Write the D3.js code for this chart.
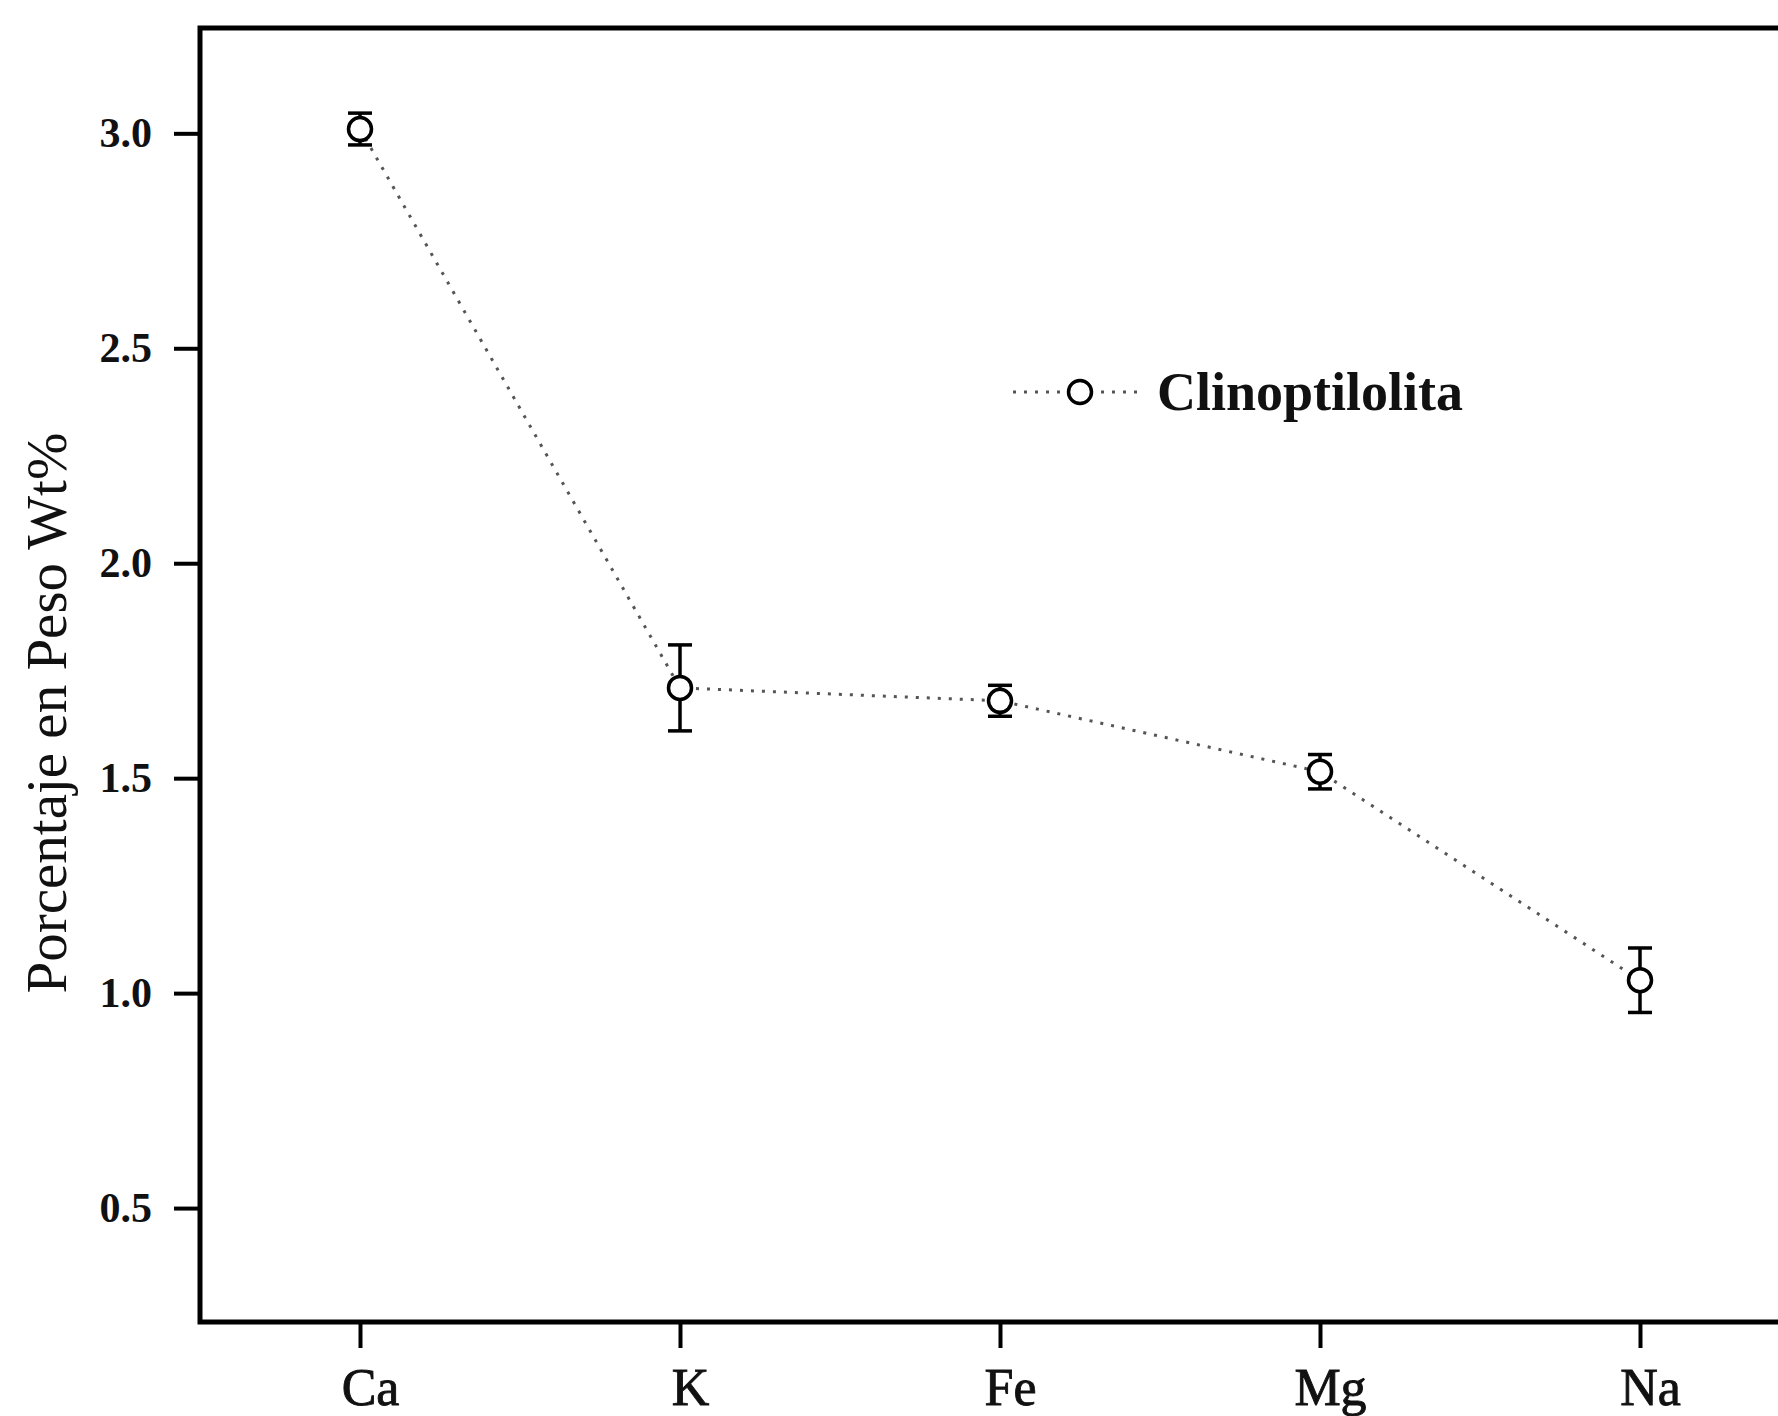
<!DOCTYPE html>
<html>
<head>
<meta charset="utf-8">
<script src="https://cdn.jsdelivr.net/npm/d3@7"></script>
<style>
  body { margin: 0; background: #fff; }
  svg { display: block; }
  text { font-family: "Liberation Serif", serif; fill: #111; }
</style>
</head>
<body>
<div id="chart"></div>
<script>
// data
var elements = ["Ca", "K", "Fe", "Mg", "Na"]
var pesoWt = [3.01, 1.71, 1.68, 1.515, 1.03]
var errWt = [0.037, 0.10, 0.036, 0.04, 0.075]
var yTicks = [0.5, 1.0, 1.5, 2.0, 2.5, 3.0]
var seriesName = "Clinoptilolita"
var yTitle = "Porcentaje en Peso Wt%"

var W = 1778, H = 1416
var margin = {top: 28, left: 200, bottom: 94}
var plotRight = 1800 // frame runs off the right edge in the original

var svg = d3.select("#chart").append("svg")
  .attr("width", W)
  .attr("height", H)

var x = d3.scalePoint()
  .domain(elements)
  .range([margin.left, plotRight])
  .padding(0.5)

var y = d3.scaleLinear()
  .domain([0.235, 3.245])
  .range([H - margin.bottom, margin.top])

var rows = elements.map(function(e, i) {
  return {el: e, v: pesoWt[i], err: errWt[i]}
})

// frame (left, top, bottom)
svg.append("rect")
  .attr("x", margin.left)
  .attr("y", margin.top)
  .attr("width", plotRight - margin.left)
  .attr("height", H - margin.bottom - margin.top)
  .attr("fill", "none")
  .attr("stroke", "#000")
  .attr("stroke-width", 5)

// y axis
var yAxis = svg.append("g")
  .attr("transform", "translate(" + margin.left + ",0)")
  .call(d3.axisLeft(y).tickValues(yTicks).tickFormat(d3.format(".1f")).tickSize(26).tickPadding(22))
yAxis.select(".domain").remove()
yAxis.selectAll(".tick line").attr("stroke", "#000").attr("stroke-width", 4)
yAxis.selectAll(".tick text")
  .style("font-size", "42px")
  .style("font-weight", "bold")
  .attr("fill", "#111")

// x axis
var xAxis = svg.append("g")
  .attr("transform", "translate(0," + (H - margin.bottom) + ")")
  .call(d3.axisBottom(x).tickSize(26).tickPadding(20))
xAxis.select(".domain").remove()
xAxis.selectAll(".tick line").attr("stroke", "#000").attr("stroke-width", 4)
xAxis.selectAll(".tick text")
  .attr("dx", 10)
  .style("font-size", "52px")
  .attr("fill", "#111")
  .attr("stroke", "#111")
  .attr("stroke-width", 0.9)

// y title
svg.append("text")
  .attr("transform", "translate(66," + 713 + ") rotate(-90)")
  .attr("text-anchor", "middle")
  .style("font-size", "57px")
  .text(yTitle)

// dotted connecting line
svg.append("path")
  .datum(rows)
  .attr("fill", "none")
  .attr("stroke", "#555")
  .attr("stroke-width", 3)
  .attr("stroke-dasharray", "3 8")
  .attr("d", d3.line()
    .x(function(d) { return x(d.el) })
    .y(function(d) { return y(d.v) }))

// error bars
var eb = svg.append("g").selectAll("g")
  .data(rows)
  .enter().append("g")
eb.append("line")
  .attr("x1", function(d) { return x(d.el) })
  .attr("x2", function(d) { return x(d.el) })
  .attr("y1", function(d) { return y(d.v + d.err) })
  .attr("y2", function(d) { return y(d.v - d.err) })
  .attr("stroke", "#000").attr("stroke-width", 3.5)
eb.selectAll(".cap")
  .data(function(d) { return [d.v + d.err, d.v - d.err].map(function(v) { return {el: d.el, v: v} }) })
  .enter().append("line")
  .attr("class", "cap")
  .attr("x1", function(d) { return x(d.el) - 12 })
  .attr("x2", function(d) { return x(d.el) + 12 })
  .attr("y1", function(d) { return y(d.v) })
  .attr("y2", function(d) { return y(d.v) })
  .attr("stroke", "#000").attr("stroke-width", 3.5)

// markers
svg.append("g").selectAll("circle")
  .data(rows)
  .enter().append("circle")
  .attr("cx", function(d) { return x(d.el) })
  .attr("cy", function(d) { return y(d.v) })
  .attr("r", 11.5)
  .attr("fill", "#fff")
  .attr("stroke", "#000")
  .attr("stroke-width", 3.5)

// legend
var lg = svg.append("g").attr("transform", "translate(1013,392)")
lg.append("line")
  .attr("x1", 0).attr("x2", 132)
  .attr("stroke", "#555").attr("stroke-width", 3)
  .attr("stroke-dasharray", "3 8")
lg.append("circle")
  .attr("cx", 67).attr("cy", 0).attr("r", 11.5)
  .attr("fill", "#fff").attr("stroke", "#000").attr("stroke-width", 3.5)
lg.append("text")
  .attr("x", 144).attr("y", 18)
  .style("font-size", "54px")
  .style("font-weight", "bold")
  .text(seriesName)
</script>
</body>
</html>
